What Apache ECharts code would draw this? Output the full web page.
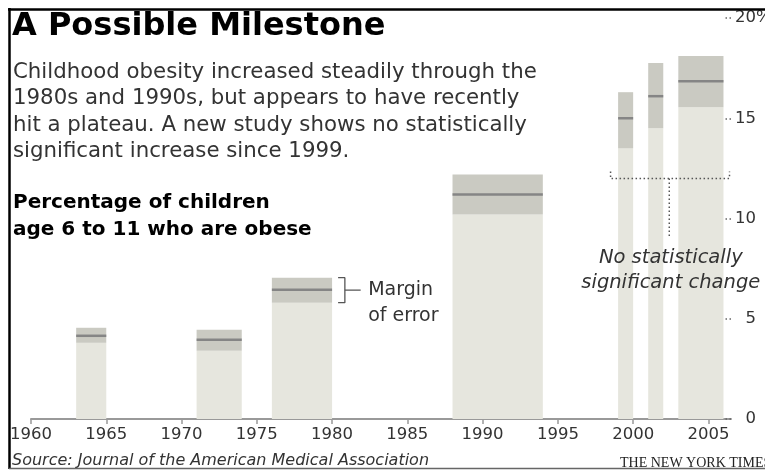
<!DOCTYPE html>
<html>
<head>
    <meta charset="utf-8">
    <title>A Possible Milestone</title>
    <script type="text/javascript" src="https://cdn.jsdelivr.net/npm/echarts@6/dist/echarts.min.js"></script>
    <style>
        html, body { margin: 0; padding: 0; background: #fff; }
        #main { width: 765px; height: 470px; }
    </style>
</head>
<body>
    <div id="main"></div>
    <script type="text/javascript">

    // survey periods and share of obese children (percent)
    var startYears = [1963, 1971, 1976, 1988, 1999, 2001, 2003];
    var endYears   = [1965, 1974, 1980, 1994, 2000, 2002, 2006];
    var lowerCI    = [3.8, 3.4, 5.8, 10.2, 13.5, 14.5, 15.55];
    var estimates  = [4.15, 3.95, 6.45, 11.2, 15.0, 16.1, 16.85];
    var upperCI    = [4.55, 4.45, 7.05, 12.2, 16.3, 17.75, 18.1];

    var yearTicks = [1960, 1965, 1970, 1975, 1980, 1985, 1990, 1995, 2000, 2005];
    var pctTicks  = [0, 5, 10, 15, 20];

    // annotation geometry, in data units (year, percent)
    var plateauLine = [[1998.5, 12.35], [1998.5, 12], [2006.4, 12], [2006.4, 12.35]];
    var plateauStem = [[2002.4, 12], [2002.4, 9.1]];
    var marginBracket = [[1980.4, 7.05], [1980.85, 7.05], [1980.85, 5.8], [1980.4, 5.8]];
    var marginStem = [[1980.85, 6.43], [1981.9, 6.43]];

    var surveys = startYears.map(function (s, i) {
        return [s, endYears[i], lowerCI[i], estimates[i], upperCI[i]];
    });

    var font = 'DejaVu Sans';
    var dotted = [1.5, 2.5];

    var myChart = echarts.init(document.getElementById('main'));

    function renderSurvey(params, api) {
        var s = api.value(0), e = api.value(1);
        var base = api.coord([s, 0]);
        var lo = api.coord([e, api.value(2)]);
        var est = api.coord([s, api.value(3)]);
        var hi = api.coord([s, api.value(4)]);
        var x0 = base[0], w = lo[0] - base[0];
        return {
            type: 'group',
            children: [
                {type: 'rect', shape: {x: x0, y: lo[1], width: w, height: base[1] - lo[1]}, style: {fill: '#e6e6de'}},
                {type: 'rect', shape: {x: x0, y: hi[1], width: w, height: lo[1] - hi[1]}, style: {fill: '#cacac2'}},
                {type: 'line', shape: {x1: x0, y1: est[1], x2: x0 + w, y2: est[1]}, style: {stroke: '#858585', lineWidth: 2.5}}
            ]
        };
    }

    function dotLine(data) {
        return {
            type: 'line', data: data, symbol: 'none', silent: true,
            lineStyle: {color: '#555', width: 1.5, type: dotted}
        };
    }

    function solidLine(data) {
        return {
            type: 'line', data: data, symbol: 'none', silent: true,
            lineStyle: {color: '#555', width: 1.3}
        };
    }

    var option = {
        animation: false,
        backgroundColor: '#fff',
        grid: {left: 31, top: 18, width: 700, height: 401, outerBoundsMode: 'none', containLabel: false},
        xAxis: {
            type: 'value', min: 1960, max: 2006.5,
            axisLine: {lineStyle: {color: '#999', width: 2}},
            axisTick: {customValues: yearTicks, length: 5, lineStyle: {color: '#999', width: 1.5}},
            axisLabel: {
                customValues: yearTicks, color: '#333', fontFamily: font, fontSize: 16.5, margin: 7,
                formatter: function (v) { return String(v); }
            },
            splitLine: {show: false}
        },
        yAxis: [{
            type: 'value', min: 0, max: 20, interval: 5, position: 'right',
            axisLine: {show: false},
            axisTick: {inside: true, length: 8, lineStyle: {color: '#666', width: 1.5, type: dotted}},
            axisLabel: {align: 'right', margin: 25, color: '#333', fontFamily: font, fontSize: 16.5},
            splitLine: {show: false}
        }, {
            type: 'value', min: 0, max: 20, interval: 5, position: 'right',
            axisLine: {show: false}, axisTick: {show: false}, splitLine: {show: false},
            axisLabel: {
                align: 'left', margin: 25, color: '#333', fontFamily: font, fontSize: 16.5,
                formatter: function (v) { return v === pctTicks[pctTicks.length - 1] ? '%' : ''; }
            }
        }],
        series: [
            {type: 'custom', renderItem: renderSurvey, data: surveys, silent: true},
            dotLine(plateauLine),
            dotLine(plateauStem),
            solidLine(marginBracket),
            solidLine(marginStem)
        ]
    };

    myChart.setOption(option);

    // texts tied to data positions
    function px(pt) { return myChart.convertToPixel({gridIndex: 0}, pt); }
    var marginAt = px([1982.4, 6.43]);
    var marginAt2 = px([1982.4, 5.15]);
    var noChangeAt = px([2002.5, 8.03]);
    var noChangeAt2 = px([2002.5, 6.78]);

    function txt(x, y, text, f, extra) {
        var st = {x: x, y: y, text: text, font: f, fill: '#222', textAlign: 'left', textVerticalAlign: 'middle'};
        for (var k in extra) st[k] = extra[k];
        return {type: 'text', silent: true, z: 100, style: st};
    }

    var body = '21.3px "DejaVu Sans"';
    myChart.setOption({
        graphic: [
            // frame
            {type: 'line', z: 100, shape: {x1: 8, y1: 9.5, x2: 765, y2: 9.5}, style: {stroke: '#000', lineWidth: 2.5}},
            {type: 'line', z: 100, shape: {x1: 9.5, y1: 8, x2: 9.5, y2: 469}, style: {stroke: '#000', lineWidth: 2.5}},
            {type: 'line', z: 100, shape: {x1: 9, y1: 468.5, x2: 765, y2: 468.5}, style: {stroke: '#666', lineWidth: 1.5}},

            txt(12, 27, 'A Possible Milestone', 'bold 32px "DejaVu Sans"', {fill: '#000'}),
            txt(13, 72, 'Childhood obesity increased steadily through the', body, {fill: '#333'}),
            txt(13, 98.5, '1980s and 1990s, but appears to have recently', body, {fill: '#333'}),
            txt(13, 125, 'hit a plateau. A new study shows no statistically', body, {fill: '#333'}),
            txt(13, 151.5, 'significant increase since 1999.', body, {fill: '#333'}),
            txt(13, 203, 'Percentage of children', 'bold 20px "DejaVu Sans"', {fill: '#000'}),
            txt(13, 230, 'age 6 to 11 who are obese', 'bold 20px "DejaVu Sans"', {fill: '#000'}),

            txt(marginAt[0], marginAt[1], 'Margin', '19px "DejaVu Sans"', {fill: '#333'}),
            txt(marginAt2[0], marginAt2[1], 'of error', '19px "DejaVu Sans"', {fill: '#333'}),
            txt(noChangeAt[0], noChangeAt[1], 'No statistically', 'italic 19.5px "DejaVu Sans"', {fill: '#333', textAlign: 'center'}),
            txt(noChangeAt2[0], noChangeAt2[1], 'significant change', 'italic 19.5px "DejaVu Sans"', {fill: '#333', textAlign: 'center'}),

            txt(12, 461, 'Source: Journal of the American Medical Association', 'italic 16px "DejaVu Sans"', {fill: '#333'}),
            txt(620, 463, 'THE NEW YORK TIMES', '14px "Liberation Serif"', {fill: '#222'})
        ]
    });
    </script>
</body>
</html>
